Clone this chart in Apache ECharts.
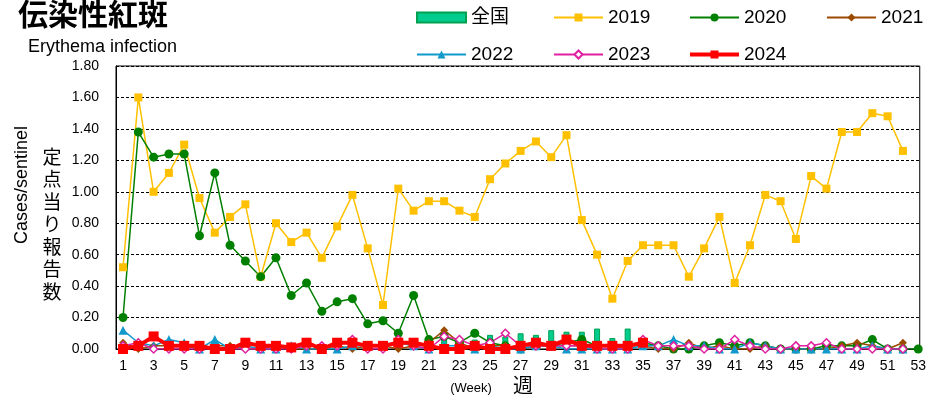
<!DOCTYPE html>
<html>
<head>
<meta charset="utf-8">
<script src="https://cdn.jsdelivr.net/npm/echarts@6/dist/echarts.min.js"></script>
<style>
  html, body { margin: 0; padding: 0; background: #fff; }
  #box { width: 929px; height: 400px; }
</style>
</head>
<body>
<div id="box"></div>
<script>
// 週番号
let weeks = [];
for (let i = 1; i <= 53; i++) weeks.push(i);
let weekLabels = [1,3,5,7,9,11,13,15,17,19,21,23,25,27,29,31,33,35,37,39,41,43,45,47,49,51,53];

// 全国
let zenkoku = [0.02,0.02,0.02,0.02,0.02,0.02,0.02,0.02,0.02,0.02,0.02,0.02,0.02,0.02,0.03,0.03,0.03,0.03,0.03,0.04,0.04,0.06,0.06,0.06,0.09,0.08,0.10,0.09,0.12,0.11,0.11,0.13,0.07,0.13];

let y2019 = [0.52,1.60,1.00,1.12,1.30,0.96,0.74,0.84,0.92,0.46,0.80,0.68,0.74,0.58,0.78,0.98,0.64,0.28,1.02,0.88,0.94,0.94,0.88,0.84,1.08,1.18,1.26,1.32,1.22,1.36,0.82,0.60,0.32,0.56,0.66,0.66,0.66,0.46,0.64,0.84,0.42,0.66,0.98,0.94,0.70,1.10,1.02,1.38,1.38,1.50,1.48,1.26,null];

let y2020 = [0.20,1.38,1.22,1.24,1.24,0.72,1.12,0.66,0.56,0.46,0.58,0.34,0.42,0.24,0.30,0.32,0.16,0.18,0.10,0.34,0.06,0.08,0.04,0.10,0.04,0.02,0.00,0.02,0.02,0.04,0.06,0.02,0.02,0.02,0.04,0.02,0.00,0.00,0.02,0.04,0.02,0.04,0.02,0.00,0.00,0.00,0.02,0.02,0.02,0.06,0.00,0.00,0.00];

let y2021 = [0.04,0.00,0.02,0.02,0.02,0.00,0.02,0.02,0.00,0.00,0.02,0.00,0.00,0.00,0.02,0.00,0.02,0.02,0.00,0.02,0.04,0.12,0.04,0.00,0.02,0.02,0.00,0.02,0.02,0.02,0.02,0.00,0.00,0.02,0.02,0.00,0.00,0.04,0.00,0.02,0.00,0.00,0.02,0.00,0.00,0.00,0.00,0.02,0.04,0.02,0.00,0.04,null];

let y2022 = [0.12,0.04,0.02,0.06,0.04,0.00,0.06,0.00,0.02,0.00,0.00,0.02,0.00,0.00,0.00,0.02,0.02,0.02,0.04,0.02,0.00,0.02,0.02,0.00,0.02,0.00,0.00,0.02,0.02,0.00,0.00,0.00,0.00,0.00,0.02,0.02,0.06,0.02,0.02,0.00,0.00,0.04,0.02,0.00,0.00,0.00,0.00,0.00,0.00,0.02,0.00,0.00,null];

let y2023 = [0.02,0.04,0.00,0.00,0.00,0.00,0.00,0.00,0.00,0.00,0.00,0.00,0.02,0.02,0.02,0.06,0.00,0.00,0.06,0.02,0.00,0.08,0.06,0.02,0.04,0.10,0.02,0.02,0.02,0.02,0.02,0.00,0.00,0.00,0.06,0.02,0.02,0.02,0.00,0.00,0.06,0.02,0.00,0.00,0.02,0.02,0.04,0.00,0.00,0.00,0.00,0.00,null];

let y2024 = [0.00,0.02,0.08,0.02,0.02,0.02,0.00,0.00,0.04,0.02,0.02,0.01,0.04,0.00,0.04,0.04,0.02,0.02,0.04,0.04,0.02,0.00,0.00,0.02,0.00,0.00,0.02,0.04,0.02,0.06,0.02,0.02,0.02,0.02,0.04];

const FONT = "'Liberation Sans', Arial, 'Noto Sans CJK JP', sans-serif";
const JP = "'Noto Sans CJK JP', sans-serif";

function pairs(arr) {
    return arr.map(function (v, i) { return [weeks[i], v]; });
}

function lineSeries(name, arr, color, symbol, size, width, extra) {
    let s = {
        name: name,
        type: 'line',
        data: pairs(arr),
        symbol: symbol,
        symbolSize: size,
        showSymbol: true,
        connectNulls: false,
        animation: false,
        lineStyle: { color: color, width: width },
        itemStyle: { color: color },
        emphasis: { disabled: true }
    };
    return Object.assign(s, extra || {});
}

// 凡例は1項目ずつ配置
function legendItem(item, left, top) {
    return {
        left: left,
        top: top,
        orient: 'horizontal',
        itemWidth: 49,
        itemHeight: 10,
        itemGap: 5,
        selectedMode: false,
        textStyle: { fontFamily: FONT, fontSize: 19, color: '#000' },
        data: [item]
    };
}

let chart = echarts.init(document.getElementById('box'));

let option = {
    backgroundColor: '#fff',
    animation: false,
    grid: {
        left: 116, right: 7, top: 66, bottom: 51,
        show: true, borderColor: '#000', borderWidth: 1,
        containLabel: false
    },
    legend: [
        legendItem({ name: '全国', icon: 'rect' }, 411, 3),
        legendItem({ name: '2019' }, 548, 3),
        legendItem({ name: '2020' }, 684, 3),
        legendItem({ name: '2021' }, 821, 3),
        legendItem({ name: '2022' }, 411, 40),
        legendItem({ name: '2023' }, 548, 40),
        legendItem({ name: '2024', lineStyle: { width: 4 } }, 683, 40)
    ],
    xAxis: {
        type: 'value',
        min: 0.54,
        max: 53.1,
        axisLine: { show: true, lineStyle: { color: '#000', width: 1 } },
        axisTick: { show: false },
        splitLine: { show: false },
        axisLabel: {
            customValues: weekLabels,
            color: '#000', fontSize: 14, fontFamily: FONT, margin: 10
        }
    },
    yAxis: {
        type: 'value',
        min: 0, max: 1.8, interval: 0.2,
        axisLine: { show: true, lineStyle: { color: '#000', width: 1 } },
        axisTick: { show: false },
        splitLine: { show: true, lineStyle: { color: '#000', type: [3, 2], width: 1 } },
        axisLabel: {
            color: '#000', fontSize: 14, fontFamily: FONT, margin: 17,
            formatter: function (v) { return v.toFixed(2); }
        }
    },
    graphic: [
        { type: 'text', left: 18, top: -1, style: { text: '伝染性紅斑', font: 'bold 30px ' + JP, fill: '#000' } },
        { type: 'text', left: 28, top: 38, style: { text: 'Erythema infection', font: '18px ' + FONT, fill: '#000' } },
        { type: 'text', x: 22, y: 185, rotation: Math.PI / 2,
          style: { text: 'Cases/sentinel', font: '18px ' + FONT, fill: '#000', align: 'center', verticalAlign: 'middle' } },
        { type: 'text', x: 52, y: 224,
          style: { text: '定\n点\n当\nり\n報\n告\n数', font: '19px ' + JP, lineHeight: 22.5, fill: '#000', align: 'center', verticalAlign: 'middle' } },
        { type: 'text', x: 471, y: 388,
          style: { text: '(Week)', font: '13px ' + FONT, fill: '#000', align: 'center', verticalAlign: 'middle' } },
        { type: 'text', x: 523, y: 385,
          style: { text: '週', font: '20px ' + JP, fill: '#000', align: 'center', verticalAlign: 'middle' } }
    ],
    series: [
        {
            name: '全国',
            type: 'bar',
            data: pairs(zenkoku),
            barWidth: 6,
            animation: false,
            itemStyle: { color: '#00CC8E', borderColor: '#00A050', borderWidth: 1 },
            emphasis: { disabled: true }
        },
        lineSeries('2019', y2019, '#FFC000', 'rect', 8, 1.5),
        lineSeries('2020', y2020, '#008000', 'circle', 9, 1.5),
        lineSeries('2021', y2021, '#9C4A00', 'diamond', 8, 1.5),
        lineSeries('2022', y2022, '#1199CC', 'triangle', 9, 1.5),
        lineSeries('2023', y2023, '#E020A0', 'diamond', 8, 1.5, {
            itemStyle: { color: '#fff', borderColor: '#E020A0', borderWidth: 1.5 }
        }),
        lineSeries('2024', y2024, '#FF0000', 'rect', 10, 4)
    ]
};

chart.setOption(option);
</script>
</body>
</html>
